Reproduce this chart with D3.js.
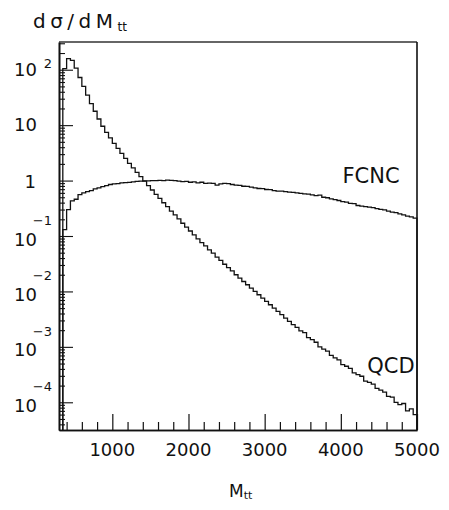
<!DOCTYPE html>
<html><head><meta charset="utf-8">
<script src="https://cdn.jsdelivr.net/npm/d3@7"></script>
<style>
html,body{margin:0;padding:0;background:#fff;}
svg text{font-family:"DejaVu Sans",sans-serif;fill:#111;}
</style></head>
<body>
<svg id="chart" width="449" height="510"></svg>
<script>
// Histogram binning (GeV): bins of 50 starting at 350 up to 5000
const binWidth = 50;
const binStarts = d3.range(350, 5000, binWidth);

// QCD dσ/dM_tt per bin
const qcdValues = [
  105, 158, 148, 107, 72.4, 50.1, 34.7, 24.5, 17.8, 12.9,
  9.55, 7.41, 5.89, 4.68, 3.80, 3.09, 2.51, 2.04, 1.70, 1.41,
  1.18, 0.977, 0.813, 0.676, 0.562, 0.479, 0.398, 0.339, 0.282, 0.240,
  0.204, 0.170, 0.145, 0.123, 0.105, 0.0891, 0.0759, 0.0661, 0.0562, 0.0490,
  0.0417, 0.0363, 0.0309, 0.0269, 0.0234, 0.0200, 0.0174, 0.0151, 0.0132, 0.0115,
  0.0100, 0.00871, 0.00759, 0.00661, 0.00575, 0.00501, 0.00437, 0.00380, 0.00331, 0.00288,
  0.00251, 0.00224, 0.00195, 0.00181, 0.00147, 0.00135, 0.00121, 0.00100, 0.000912, 0.000840,
  0.000700, 0.000631, 0.000580, 0.000480, 0.000447, 0.000410, 0.000340, 0.000316, 0.000295, 0.000240,
  0.000229, 0.000212, 0.000178, 0.000166, 0.000152, 0.000128, 0.000124, 0.000100, 0.0000910, 0.0000950,
  0.0000700, 0.0000760, 0.0000600
];

// FCNC dσ/dM_tt per bin
const fcncValues = [
  0.130, 0.30, 0.43, 0.46, 0.56, 0.60, 0.63, 0.66, 0.71, 0.74,
  0.78, 0.81, 0.85, 0.87, 0.88, 0.91, 0.92, 0.93, 0.95, 0.97,
  0.98, 0.99, 0.99, 1.00, 1.00, 1.01, 1.00, 1.02, 1.01, 1.00,
  0.98, 0.955, 0.966, 0.933, 0.944, 0.912, 0.933, 0.891, 0.90, 0.89,
  0.83, 0.87, 0.89, 0.88, 0.85, 0.83, 0.82, 0.79, 0.785, 0.76,
  0.74, 0.72, 0.716, 0.69, 0.684, 0.66, 0.645, 0.645, 0.63, 0.617,
  0.61, 0.60, 0.589, 0.575, 0.569, 0.55, 0.537, 0.545, 0.50, 0.49,
  0.468, 0.452, 0.437, 0.417, 0.407, 0.389, 0.385, 0.355, 0.347, 0.339,
  0.331, 0.324, 0.313, 0.302, 0.295, 0.282, 0.269, 0.263, 0.251, 0.240,
  0.229, 0.221, 0.211
];

const xDomain = [300, 5000];
const yDomain = [Math.pow(10, -4.5), Math.pow(10, 2.5)];
const xMajorTicks = [1000, 2000, 3000, 4000, 5000];
const xTickLabels = ["1000", "2000", "3000", "4000", "5000"];
const yExponents = [2, 1, 0, -1, -2, -3, -4];

const L = 59, R = 417, T = 42, B = 430;
const svg = d3.select("#chart");
const x = d3.scaleLinear().domain(xDomain).range([L, R]);
const y = d3.scaleLog().domain(yDomain).range([B, T]);

// minor tick values
const xMinor = d3.range(400, 5000, 200).filter(v => v % 1000 !== 0);
const yMinor = [];
for (let e = -5; e <= 2; e++) for (let k = 2; k <= 9; k++) {
  const v = k * Math.pow(10, e);
  if (v > yDomain[0] && v < yDomain[1]) yMinor.push(v);
}
const yMajor = yExponents.map(e => Math.pow(10, e));

const axisStroke = "#111";
// X axis
const gx = svg.append("g").attr("transform", `translate(0,${B})`);
gx.call(d3.axisTop(x).tickValues(xMajorTicks).tickSize(16).tickFormat("").tickSizeOuter(0));
gx.append("g").call(d3.axisTop(x).tickValues(xMinor).tickSize(8).tickFormat("").tickSizeOuter(0));
gx.selectAll("path.domain").attr("stroke", axisStroke).attr("stroke-width", 1.6);
gx.selectAll("line").attr("stroke", axisStroke).attr("stroke-width", 1.2);

// Y axis
const gy = svg.append("g").attr("transform", `translate(${L},0)`);
gy.call(d3.axisRight(y).tickValues(yMajor).tickSize(14).tickFormat("").tickSizeOuter(0));
gy.append("g").call(d3.axisRight(y).tickValues(yMinor).tickSize(6).tickFormat("").tickSizeOuter(0));
gy.selectAll("path.domain").attr("stroke", axisStroke).attr("stroke-width", 1.6);
gy.selectAll("line").attr("stroke", axisStroke).attr("stroke-width", 1.1);

// top and right frame
svg.append("line").attr("x1", L).attr("x2", R).attr("y1", T).attr("y2", T)
  .attr("stroke", "#333").attr("stroke-width", 1.6);
svg.append("line").attr("x1", R).attr("x2", R).attr("y1", T).attr("y2", B)
  .attr("stroke", axisStroke).attr("stroke-width", 1.6);

// X tick labels
svg.append("g").selectAll("text").data(xMajorTicks).join("text")
  .attr("x", d => x(d)).attr("y", 456).attr("text-anchor", "middle")
  .attr("font-size", 18).text((d, i) => xTickLabels[i]);

// Y tick labels
const yl = svg.append("g");
yExponents.forEach(e => {
  const yy = y(Math.pow(10, e));
  if (e === 0) {
    yl.append("text").attr("x", 36).attr("y", yy + 7).attr("text-anchor", "end")
      .attr("font-size", 18).text("1");
  } else if (e === 1) {
    yl.append("text").attr("x", 37).attr("y", yy + 6).attr("text-anchor", "end")
      .attr("font-size", 18).text("10");
  } else if (e > 0) {
    yl.append("text").attr("x", 37).attr("y", yy + 6).attr("text-anchor", "end")
      .attr("font-size", 18).text("10");
    yl.append("text").attr("x", 52).attr("y", yy - 2).attr("text-anchor", "end")
      .attr("font-size", 13).text(String(e));
  } else {
    yl.append("text").attr("x", 37).attr("y", yy + 9.5).attr("text-anchor", "end")
      .attr("font-size", 18).text("10");
    yl.append("text").attr("x", 52).attr("y", yy - 11).attr("text-anchor", "end")
      .attr("font-size", 13).text("\u2212" + (-e));
  }
});

// histograms
function histPoints(vals) {
  const pts = [[binStarts[0], yDomain[0]]];
  vals.forEach((v, i) => pts.push([binStarts[i], v]));
  pts.push([binStarts[binStarts.length - 1] + binWidth, vals[vals.length - 1]]);
  pts.push([binStarts[binStarts.length - 1] + binWidth, yDomain[0]]);
  return pts;
}
const line = d3.line().x(d => x(d[0])).y(d => y(d[1])).curve(d3.curveStepAfter);
[qcdValues, fcncValues].forEach(vals => {
  svg.append("path").attr("d", line(histPoints(vals)))
    .attr("fill", "none").attr("stroke", "#111").attr("stroke-width", 1.3);
});

// labels
svg.append("text").attr("x", 371).attr("y", 183).attr("text-anchor", "middle")
  .attr("font-size", 21).text("FCNC");
svg.append("text").attr("x", 391).attr("y", 373).attr("text-anchor", "middle")
  .attr("font-size", 21).text("QCD");

// y title
const yt = svg.append("text").attr("x", 33).attr("y", 28).attr("font-size", 20);
yt.append("tspan").attr("letter-spacing", 4.5).text("dσ/dM");
yt.append("tspan").attr("font-size", 12).attr("dy", 3).text("tt");

// x title
const xt = svg.append("text").attr("x", 229).attr("y", 497).attr("font-size", 17);
xt.append("tspan").text("M");
xt.append("tspan").attr("font-size", 11).attr("dy", 2).text("tt");
</script>
</body></html>
